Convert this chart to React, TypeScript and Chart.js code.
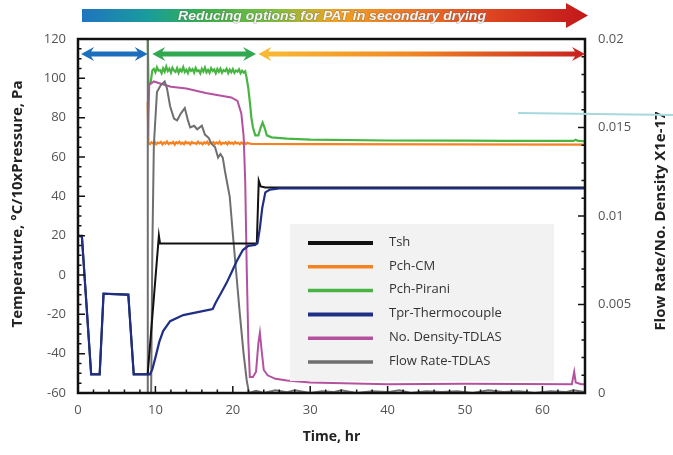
import React, { useEffect, useRef } from "react";
import { Chart, registerables } from "chart.js";
Chart.register(...registerables);

// ---------- axis ticks ----------
const xTicks = [0, 10, 20, 30, 40, 50, 60];
const yTicks = [-60, -40, -20, 0, 20, 40, 60, 80, 100, 120];
const y1Ticks = [0, 0.005, 0.01, 0.015, 0.02];

const seriesLabels = ["Tsh", "Pch-CM", "Pch-Pirani", "Tpr-Thermocouple", "No. Density-TDLAS", "Flow Rate-TDLAS"];

// ---------- phases (hr) ----------
const phaseStart = [0.4, 9.6, 23.3];
const phaseEnd = [9.0, 23.0, 65.5];

// helper: sample times of a regularly-sampled segment
const seq = (start: number, step: number, n: number) => Array.from({ length: n }, (_, i) => +(start + i * step).toFixed(3));

// ---------- Tsh ----------
const tshTime = [0, 0.5, 1.7, 2.8, 3.3, 6.5, 7.2, 9.0, 10.45, 10.6, 23.1, 23.35, 23.6, 24.2, 65.5];
const tshValue = [20, 20, -50.5, -50.5, -9.5, -10, -50.5, -50.5, 20, 16, 16, 48, 45, 44.5, 44.5];

// ---------- Pch-CM ----------
const cmNoise = [66.6, 67.5, 66.9, 67.8, 66.5, 67.3, 67.0, 67.7, 66.4, 67.4, 66.8, 67.9, 66.6, 67.2, 66.9, 67.6, 66.3, 67.5, 67.0, 67.8,
  66.7, 67.3, 66.5, 67.7, 66.9, 67.4, 66.4, 67.6, 67.0, 67.2, 66.6, 67.8, 66.8, 67.3, 66.5, 67.5, 66.9, 67.7, 66.4, 67.3,
  67.0, 67.6, 66.6, 67.4, 66.8, 67.8, 66.5, 67.2, 66.9, 67.5, 66.4, 67.6, 66.8, 67.3, 66.6, 67.7, 66.9, 67.2, 66.5, 67.4,
  66.8, 67.5, 66.6, 67.2, 66.9];
const cmTime = [9.0, 9.1, ...seq(9.3, 0.2, cmNoise.length), 22.4, 30, 65.5];
const cmValue = [88, 67, ...cmNoise, 66.7, 66.5, 66.3];

// ---------- Pch-Pirani ----------
const piraniNoise = [104.8, 103.1, 105.6, 103.9, 104.2, 102.6, 105.1, 103.4, 106.0, 103.7, 104.9, 102.9, 105.4, 104.0, 103.3, 105.2, 102.8, 104.6, 103.5, 105.7,
  103.2, 104.4, 102.7, 105.0, 103.8, 104.7, 102.9, 105.3, 103.6, 104.1, 102.5, 104.9, 103.4, 105.5, 103.0, 104.3, 102.8, 105.1, 103.7, 104.5,
  102.6, 104.8, 103.3, 105.0, 102.9, 104.2, 103.6, 104.9, 102.7, 104.4, 103.1, 104.7, 102.8, 104.0, 103.4, 104.6, 102.6, 103.9, 102.9, 103.6];
const piraniTime = [9.0, 9.1, 9.4, 9.6, ...seq(9.8, 0.2, piraniNoise.length), 21.75, 22.0, 22.2, 22.4, 22.6, 22.9, 23.3, 23.6, 23.85, 24.1, 24.4, 25, 27, 30, 40, 50, 55, 64, 64.3, 64.6, 65.5];
const piraniValue = [125, 97, 98, 104, ...piraniNoise, 101, 95, 88, 80, 75, 71, 71, 75, 77.5, 75, 71, 70, 69.3, 68.8, 68.4, 68.3, 68.2, 68.2, 68.8, 68.2, 68];

// ---------- Tpr-Thermocouple ----------
const tprTime = [0, 0.5, 1.7, 2.8, 3.3, 6.5, 7.2, 9.3, 9.6, 10.0, 10.5, 11.0, 11.9, 13.6, 16.1, 17.4, 17.8, 18.5, 19.2, 19.8, 20.5, 21.3, 22.0, 22.9, 23.2, 23.5, 23.8, 24.2, 24.8, 26, 65.5];
const tprValue = [20, 19.5, -50.5, -50.5, -9.5, -10, -50.5, -50.5, -48, -42, -34, -28.5, -23.5, -20.4, -18.4, -17.3, -14, -9, -4, 1, 7, 12.7, 14.8, 15.3, 16.3, 24, 34, 42, 43.4, 44, 44];

// ---------- No. Density (right axis) ----------
const densTime = [9.05, 9.2, 9.8, 10.5, 12, 14, 16.5, 18.5, 19.8, 20.6, 21.1, 21.4, 21.6, 21.8, 22.0, 22.2, 22.6, 23.0, 23.3, 23.5, 23.7, 24.0, 24.5, 25.5, 27, 30, 40, 50, 63.8, 64.1, 64.3, 65, 65.5];
const densValue = [0.0145, 0.0174, 0.0176, 0.0175, 0.0173, 0.0172, 0.01695, 0.0168, 0.0167, 0.0165, 0.0158, 0.0145, 0.012, 0.007, 0.003, 0.0009, 0.0009, 0.0012, 0.0028, 0.0034, 0.0025, 0.0013, 0.0010, 0.0008, 0.0007, 0.0006, 0.0005, 0.00052, 0.0005, 0.0012, 0.0006, 0.0005, 0.0005];

// ---------- Flow Rate (right axis) ----------
const flowTime = [8.97, 9.0, 9.03, 9.45, 9.6, 9.8, 10.2, 10.7, 11.2, 11.5, 11.9, 12.4, 12.8, 13.3, 13.8, 14.2, 14.5, 15.0, 15.4, 16.0, 16.4, 16.9, 17.2, 17.7, 18.1, 18.4, 18.7, 19.0, 19.6, 20.0, 20.5, 20.9, 21.4, 21.8, 22.1,
  23, 24, 25.5, 27, 28, 30, 31.5, 33, 34, 36, 38, 40, 41.5, 43, 45, 47, 49, 51, 53, 55, 57, 59, 61, 63, 64, 65.5];
const flowValue = [0, 0.0215, 0, 0, 0.008, 0.0140, 0.0170, 0.0174, 0.0176, 0.0172, 0.0162, 0.0155, 0.0154, 0.0158, 0.0161, 0.0154, 0.0150, 0.0151, 0.0149, 0.0151, 0.0146, 0.0144, 0.0141, 0.0139, 0.0133, 0.0135, 0.0133, 0.0125, 0.0111, 0.0090, 0.0065, 0.0045, 0.0022, 0.0007, 0,
  0.00012, 0, 0.00015, 0.00005, 0.00015, 0, 0.0001, 0.00005, 0.00015, 0, 0.0001, 0.00005, 0.00015, 0, 0.0001, 0.00005, 0.0001, 0, 0.00015, 0.00005, 0.0001, 0, 0.0001, 0.00005, 0.00015, 0.00005];

const pts = (t: number[], v: number[]) => t.map((x, i) => ({ x, y: v[i] }));

const FONT = "'Open Sans', sans-serif";

const decorPlugin = {
  id: "decor",
  afterDatasetsDraw(chart: any) {
    const { ctx } = chart;
    // legend box
    ctx.save();
    ctx.fillStyle = "#f2f2f2";
    ctx.fillRect(290, 224, 264, 157);
    const ds = chart.data.datasets;
    ds.forEach((d: any, i: number) => {
      const yy = 243 + i * 23.8;
      ctx.strokeStyle = d.borderColor;
      ctx.lineWidth = i === 0 || i === 3 ? 4 : 3.5;
      ctx.beginPath();
      ctx.moveTo(308, yy);
      ctx.lineTo(373, yy);
      ctx.stroke();
      ctx.fillStyle = "#333";
      ctx.font = `13px ${FONT}`;
      ctx.textBaseline = "middle";
      ctx.textAlign = "left";
      ctx.fillText(d.label, 389, yy - 1);
    });
    ctx.restore();
  },
  afterDraw(chart: any) {
    const { ctx, chartArea: a, scales } = chart;
    const xs = scales.x, ys = scales.y, y1s = scales.y1;
    ctx.save();
    // frame
    ctx.strokeStyle = "#111";
    ctx.lineWidth = 2.5;
    ctx.strokeRect(a.left, a.top, a.right - a.left, a.bottom - a.top);
    // inward ticks
    ctx.lineWidth = 1.5;
    ctx.beginPath();
    for (let v = -60; v <= 120; v += 5) {
      const p = ys.getPixelForValue(v);
      const len = v % 20 === 0 ? 7 : 3.5;
      ctx.moveTo(a.left, p);
      ctx.lineTo(a.left + len, p);
    }
    for (let k = 0; k <= 20; k++) {
      const p = y1s.getPixelForValue(k * 0.001);
      const len = k % 5 === 0 ? 7 : 3.5;
      ctx.moveTo(a.right, p);
      ctx.lineTo(a.right - len, p);
    }
    for (let v = 0; v <= 64; v += 2) {
      const p = xs.getPixelForValue(v);
      const len = v % 10 === 0 ? 7 : 3.5;
      ctx.moveTo(p, a.bottom);
      ctx.lineTo(p, a.bottom - len);
    }
    ctx.stroke();

    // phase double arrows
    const drawDouble = (x0: number, x1: number, yc: number, fill: any) => {
      const hl = 13, hh = 7, sh = 2.6;
      ctx.fillStyle = fill;
      ctx.beginPath();
      ctx.moveTo(x0, yc);
      ctx.lineTo(x0 + hl, yc - hh);
      ctx.lineTo(x0 + hl - 3, yc - sh);
      ctx.lineTo(x1 - hl + 3, yc - sh);
      ctx.lineTo(x1 - hl, yc - hh);
      ctx.lineTo(x1, yc);
      ctx.lineTo(x1 - hl, yc + hh);
      ctx.lineTo(x1 - hl + 3, yc + sh);
      ctx.lineTo(x0 + hl - 3, yc + sh);
      ctx.lineTo(x0 + hl, yc + hh);
      ctx.closePath();
      ctx.fill();
    };
    const ay = 54;
    const px = (t: number) => xs.getPixelForValue(t);
    drawDouble(px(phaseStart[0]), px(phaseEnd[0]), ay, "#1c6fbd");
    drawDouble(px(phaseStart[1]), px(phaseEnd[1]), ay, "#2fa84f");
    const og = ctx.createLinearGradient(px(phaseStart[2]), 0, px(phaseEnd[2]), 0);
    og.addColorStop(0, "#f8bb34");
    og.addColorStop(0.45, "#f08a24");
    og.addColorStop(1, "#c8201e");
    drawDouble(px(phaseStart[2]), px(phaseEnd[2]), ay, og);

    // top banner arrow
    const bx0 = 82, bx1 = 588, hx = 566;
    const g = ctx.createLinearGradient(bx0, 0, bx1, 0);
    g.addColorStop(0, "#1f74c0");
    g.addColorStop(0.13, "#1a9c9c");
    g.addColorStop(0.24, "#36b14a");
    g.addColorStop(0.38, "#7dbf3e");
    g.addColorStop(0.5, "#f0a321");
    g.addColorStop(0.68, "#ec6b24");
    g.addColorStop(0.85, "#d73a1f");
    g.addColorStop(1, "#c2171b");
    ctx.fillStyle = g;
    ctx.beginPath();
    ctx.moveTo(bx0, 9);
    ctx.lineTo(hx, 9);
    ctx.lineTo(hx, 3);
    ctx.lineTo(bx1, 15.5);
    ctx.lineTo(hx, 28);
    ctx.lineTo(hx, 22);
    ctx.lineTo(bx0, 22);
    ctx.closePath();
    ctx.fill();
    // banner text
    const btxt = "Reducing options for PAT in secondary drying";
    ctx.font = `italic bold 13px 'Liberation Sans', Arial, sans-serif`;
    const w = ctx.measureText(btxt).width;
    const target = 308;
    ctx.save();
    ctx.translate(332, 16);
    ctx.scale(target / w, 1);
    ctx.textAlign = "center";
    ctx.textBaseline = "middle";
    ctx.strokeStyle = "rgba(90,90,90,0.45)";
    ctx.lineWidth = 1.1;
    ctx.strokeText(btxt, 0, 0);
    ctx.fillStyle = "#f4f4f4";
    ctx.fillText(btxt, 0, 0);
    ctx.restore();

    // vertical axis titles
    ctx.fillStyle = "#222";
    ctx.font = `bold 15px ${FONT}`;
    ctx.textAlign = "center";
    ctx.textBaseline = "middle";
    ctx.save();
    ctx.translate(18, 204);
    ctx.rotate(-Math.PI / 2);
    ctx.fillText("Temperature, °C/10xPressure, Pa", 0, 0);
    ctx.restore();
    ctx.save();
    ctx.translate(661, 221);
    ctx.rotate(-Math.PI / 2);
    ctx.fillText("Flow Rate/No. Density X1e-17", 0, 0);
    ctx.restore();

    // stray light-blue line
    ctx.strokeStyle = "#a6d9df";
    ctx.lineWidth = 2;
    ctx.beginPath();
    ctx.moveTo(518, 113);
    ctx.lineTo(673, 115);
    ctx.stroke();
    ctx.restore();
  },
};

export default function App() {
  const ref = useRef<HTMLCanvasElement>(null);
  useEffect(() => {
    document.body.style.margin = "0";
    const tickFont = { family: FONT, size: 13 };
    const chart = new Chart(ref.current as HTMLCanvasElement, {
      type: "line",
      data: {
        datasets: [
          { label: seriesLabels[0], data: pts(tshTime, tshValue), borderColor: "#111111", borderWidth: 2, yAxisID: "y", order: 2 },
          { label: seriesLabels[1], data: pts(cmTime, cmValue), borderColor: "#f58220", borderWidth: 2.2, yAxisID: "y", order: 5 },
          { label: seriesLabels[2], data: pts(piraniTime, piraniValue), borderColor: "#48b543", borderWidth: 2.2, yAxisID: "y", order: 6 },
          { label: seriesLabels[3], data: pts(tprTime, tprValue), borderColor: "#1f2f86", borderWidth: 2.2, yAxisID: "y", order: 1 },
          { label: seriesLabels[4], data: pts(densTime, densValue), borderColor: "#b4529f", borderWidth: 2, yAxisID: "y1", order: 4 },
          { label: seriesLabels[5], data: pts(flowTime, flowValue), borderColor: "#6f6f6f", borderWidth: 2, yAxisID: "y1", order: 3 },
        ] as any,
      },
      options: {
        animation: false,
        responsive: false,
        devicePixelRatio: 1,
        layout: { padding: { top: 39, left: 0, right: 0, bottom: 0 } },
        elements: { point: { radius: 0 }, line: { tension: 0 } },
        plugins: { legend: { display: false }, tooltip: { enabled: false } },
        scales: {
          x: {
            type: "linear",
            position: "bottom",
            min: 0,
            max: 65.5,
            afterBuildTicks: (s: any) => { s.ticks = xTicks.map((v) => ({ value: v })); },
            afterFit: (s: any) => { s.height = 62; },
            grid: { display: false, drawTicks: false },
            border: { display: false },
            ticks: { font: tickFont, color: "#555", padding: 9, maxRotation: 0, autoSkip: false, callback: (v: any) => String(v) },
            title: { display: true, text: "Time, hr", font: { family: FONT, size: 14, weight: "bold" }, color: "#222", padding: { top: 0, bottom: 10 } },
          },
          y: {
            type: "linear",
            position: "left",
            min: -60,
            max: 120,
            afterBuildTicks: (s: any) => { s.ticks = yTicks.map((v) => ({ value: v })); },
            afterFit: (s: any) => { s.width = 78; },
            grid: { display: false, drawTicks: false },
            border: { display: false },
            ticks: { font: tickFont, color: "#555", padding: 12, autoSkip: false, callback: (v: any) => String(v) },
          },
          y1: {
            type: "linear",
            position: "right",
            min: 0,
            max: 0.02,
            afterBuildTicks: (s: any) => { s.ticks = y1Ticks.map((v) => ({ value: v })); },
            afterFit: (s: any) => { s.width = 88; },
            grid: { display: false, drawTicks: false },
            border: { display: false },
            ticks: { font: tickFont, color: "#555", padding: 13, autoSkip: false, callback: (v: any) => String(+Number(v).toFixed(4)) },
          },
        },
      } as any,
      plugins: [decorPlugin],
    });
    return () => chart.destroy();
  }, []);
  return (
    <div style={{ width: 673, height: 455, background: "#fff" }}>
      <canvas ref={ref} width={673} height={455} style={{ display: "block" }} />
    </div>
  );
}
